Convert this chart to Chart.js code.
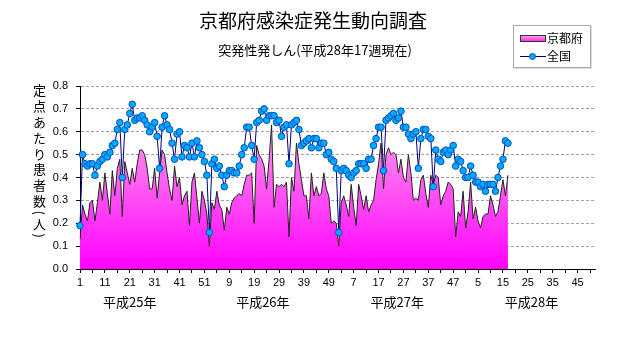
<!DOCTYPE html>
<html lang="ja">
<head>
<meta charset="utf-8">
<title>京都府感染症発生動向調査</title>
<script src="https://cdn.jsdelivr.net/npm/chart.js@4/dist/chart.umd.min.js"></script>
<style>
  body { margin: 0; background: #fff; }
  #wrap { position: relative; width: 631px; height: 347px; overflow: hidden;
          font-family: "Noto Sans CJK JP", "Noto Sans", sans-serif; color: #000; }
  #chart { position: absolute; left: 0; top: 0; }
  #title { position: absolute; left: 0; width: 626px; top: 8px; text-align: center; font-size: 19px; line-height: 24px; }
  #subtitle { position: absolute; left: 0; width: 630px; top: 42px; text-align: center; font-size: 13px; line-height: 16px; }
  #ytitle { position: absolute; left: 31px; top: 84px; writing-mode: vertical-rl; font-size: 13px; letter-spacing: 2.8px; line-height: 16px; }
  #legend { position: absolute; left: 513px; top: 25px; width: 76px; height: 41px; border: 1px solid #aaa;
            background: #fff; font-size: 12px; box-shadow: 1px 1px 0 #ddd; }
  .item { position: absolute; left: 4px; height: 16px; line-height: 16px; }
  .item span { position: absolute; left: 29px; white-space: nowrap; }
  .sw-area { position: absolute; left: 2px; top: 5px; width: 24px; height: 5px; border: 1px solid #333;
             background: linear-gradient(#ff9ee0, #ff30f0); }
  .sw-line { position: absolute; left: 2px; top: 8px; width: 26px; height: 1px; background: #000080; }
  .sw-dot { position: absolute; left: 11px; top: 5px; width: 5px; height: 5px; border-radius: 50%;
            background: #00aaff; border: 1px solid #0050c0; }
</style>
</head>
<body>
<div id="wrap">
  <canvas id="chart" width="631" height="347"></canvas>
  <div id="title">京都府感染症発生動向調査</div>
  <div id="subtitle">突発性発しん(平成28年17週現在)</div>
  <div id="ytitle">定点あたり患者数(人)</div>
  <div id="legend">
    <div class="item" style="top:4px"><div class="sw-area"></div><span>京都府</span></div>
    <div class="item" style="top:22px"><div class="sw-line"></div><div class="sw-dot"></div><span>全国</span></div>
  </div>
</div>
<script>
// weeks per year on the axis, and the year names under it
const years = ["平成25年", "平成26年", "平成27年", "平成28年"]
const weeksPerYear = 52
// where each year name sits, in category units
const yearLabelAt = [20, 73.5, 127.5, 181.5]

const weekLabels = []
years.forEach(() => {
    for (let w = 1; w <= weeksPerYear; w++) weekLabels.push(String(w))
})

// 京都府 (per sentinel), 平成25年1週 - 平成28年17週
const kyoto_h25 = [0.13, 0.28, 0.24, 0.21, 0.29, 0.30, 0.21, 0.29, 0.38, 0.30,
    0.42, 0.33, 0.24, 0.43, 0.32, 0.44, 0.48, 0.23, 0.47, 0.42,
    0.37, 0.44, 0.38, 0.46, 0.52, 0.52, 0.50, 0.44, 0.35, 0.35,
    0.44, 0.31, 0.42, 0.52, 0.50, 0.42, 0.35, 0.30, 0.45, 0.36,
    0.40, 0.28, 0.32, 0.34, 0.19, 0.38, 0.42, 0.31, 0.20, 0.34,
    0.30, 0.24]
const kyoto_h26 = [0.10, 0.29, 0.26, 0.34, 0.28, 0.26, 0.17, 0.27, 0.24, 0.29,
    0.31, 0.32, 0.33, 0.32, 0.37, 0.41, 0.41, 0.42, 0.20, 0.54,
    0.50, 0.48, 0.45, 0.35, 0.48, 0.63, 0.27, 0.37, 0.36, 0.37,
    0.36, 0.38, 0.14, 0.40, 0.34, 0.55, 0.46, 0.39, 0.32, 0.32,
    0.22, 0.42, 0.32, 0.36, 0.32, 0.33, 0.42, 0.35, 0.32, 0.20,
    0.21, 0.20]
const kyoto_h27 = [0.10, 0.29, 0.32, 0.28, 0.23, 0.37, 0.27, 0.19, 0.37, 0.32,
    0.26, 0.32, 0.25, 0.28, 0.30, 0.39, 0.46, 0.55, 0.35, 0.50,
    0.53, 0.50, 0.51, 0.50, 0.42, 0.48, 0.40, 0.38, 0.50, 0.42,
    0.30, 0.31, 0.30, 0.39, 0.41, 0.33, 0.27, 0.41, 0.37, 0.41,
    0.40, 0.28, 0.32, 0.34, 0.38, 0.37, 0.35, 0.14, 0.25, 0.23,
    0.34, 0.18]
const kyoto_h28 = [0.25, 0.38, 0.22, 0.27, 0.21, 0.18, 0.23, 0.24, 0.24, 0.32,
    0.28, 0.23, 0.25, 0.32, 0.39, 0.32, 0.41]

// 全国 (per sentinel), same weeks
const zenkoku_h25 = [0.19, 0.50, 0.46, 0.45, 0.46, 0.46, 0.41, 0.45, 0.47, 0.48,
    0.50, 0.49, 0.51, 0.54, 0.55, 0.61, 0.64, 0.40, 0.61, 0.63,
    0.68, 0.72, 0.65, 0.66, 0.66, 0.67, 0.65, 0.63, 0.60, 0.62,
    0.64, 0.58, 0.44, 0.62, 0.67, 0.63, 0.61, 0.55, 0.48, 0.59,
    0.60, 0.49, 0.54, 0.53, 0.49, 0.55, 0.49, 0.56, 0.53, 0.50,
    0.47, 0.41]
const zenkoku_h26 = [0.16, 0.46, 0.48, 0.44, 0.45, 0.41, 0.36, 0.41, 0.43, 0.43,
    0.42, 0.42, 0.45, 0.50, 0.53, 0.62, 0.62, 0.54, 0.48, 0.64,
    0.65, 0.69, 0.70, 0.65, 0.67, 0.67, 0.67, 0.64, 0.65, 0.58,
    0.62, 0.63, 0.46, 0.63, 0.64, 0.65, 0.61, 0.54, 0.55, 0.56,
    0.57, 0.53, 0.57, 0.57, 0.53, 0.55, 0.55, 0.50, 0.51, 0.48,
    0.47, 0.44]
const zenkoku_h27 = [0.16, 0.43, 0.44, 0.43, 0.41, 0.40, 0.42, 0.43, 0.46, 0.46,
    0.46, 0.44, 0.48, 0.48, 0.54, 0.57, 0.62, 0.62, 0.43, 0.65,
    0.66, 0.67, 0.68, 0.65, 0.66, 0.69, 0.62, 0.62, 0.59, 0.57,
    0.59, 0.60, 0.44, 0.57, 0.61, 0.61, 0.58, 0.57, 0.36, 0.52,
    0.48, 0.47, 0.51, 0.52, 0.50, 0.52, 0.54, 0.45, 0.48, 0.47,
    0.43, 0.40]
const zenkoku_h28 = [0.40, 0.45, 0.41, 0.38, 0.38, 0.36, 0.37, 0.34, 0.37, 0.37,
    0.37, 0.34, 0.40, 0.45, 0.48, 0.56, 0.55]

const kyoto = kyoto_h25.concat(kyoto_h26, kyoto_h27, kyoto_h28)
const zenkoku = zenkoku_h25.concat(zenkoku_h26, zenkoku_h27, zenkoku_h28)

const font = { family: "'Liberation Sans', 'DejaVu Sans', sans-serif", size: 11 }

// year names under the week numbers
const yearNames = {
    id: 'yearNames',
    afterDraw(chart) {
        const { ctx, scales: { x } } = chart
        ctx.save()
        ctx.font = "13px 'Noto Sans CJK JP', sans-serif"
        ctx.fillStyle = '#000'
        ctx.textAlign = 'center'
        ctx.textBaseline = 'middle'
        years.forEach((name, i) => {
            ctx.fillText(name, x.getPixelForValue(yearLabelAt[i]), 302)
        })
        ctx.restore()
    }
}

const ctx = document.getElementById("chart").getContext("2d")
new Chart(ctx, {
    type: 'line',
    data: {
        labels: weekLabels,
        datasets: [{
            label: '全国',
            data: zenkoku,
            order: 0,
            borderColor: '#000080',
            borderWidth: 1,
            fill: false,
            tension: 0,
            pointRadius: 3.3,
            pointBackgroundColor: '#00aaff',
            pointBorderColor: '#0050c0',
            pointBorderWidth: 1
        },
        {
            label: '京都府',
            data: kyoto,
            order: 1,
            borderColor: '#222',
            borderWidth: 1,
            fill: 'origin',
            tension: 0,
            pointRadius: 0,
            backgroundColor: (c) => {
                const area = c.chart.chartArea
                if (!area) return '#ff66e0'
                const g = c.chart.ctx.createLinearGradient(0, area.top, 0, area.bottom)
                g.addColorStop(0, '#ffc8e4')
                g.addColorStop(1, '#ff00ff')
                return g
            }
        }]
    },
    options: {
        responsive: false,
        animation: false,
        layout: { padding: { left: 0, right: 36, top: 86, bottom: 56 } },
        scales: {
            x: {
                type: 'category',
                offset: false,
                border: { display: true, color: '#000', width: 1 },
                grid: {
                    drawOnChartArea: false,
                    tickLength: 4,
                    tickColor: (c) => c.index % 5 === 0 ? '#000' : 'rgba(0,0,0,0)',
                    color: 'rgba(0,0,0,0)'
                },
                ticks: {
                    autoSkip: false,
                    maxRotation: 0,
                    minRotation: 0,
                    padding: 3,
                    color: '#000',
                    font: font,
                    callback: (v, i) => i % 10 === 0 ? weekLabels[i] : ''
                },
                afterFit: (scale) => { scale.height = 22 }
            },
            y: {
                min: 0,
                max: 0.8,
                border: { display: true, color: '#000', width: 1, dash: [3, 2] },
                grid: {
                    color: (c) => c.tick.value === 0 ? 'rgba(0,0,0,0)' : '#a0a0a0',
                    tickLength: 4,
                    tickColor: '#000',
                    tickBorderDash: []
                },
                ticks: {
                    stepSize: 0.1,
                    padding: 8,
                    color: '#000',
                    font: font,
                    callback: (v) => v.toFixed(1)
                },
                afterFit: (scale) => { scale.width = 80 }
            }
        },
        plugins: {
            legend: { display: false },
            tooltip: { enabled: false }
        }
    },
    plugins: [yearNames]
})
</script>
</body>
</html>
